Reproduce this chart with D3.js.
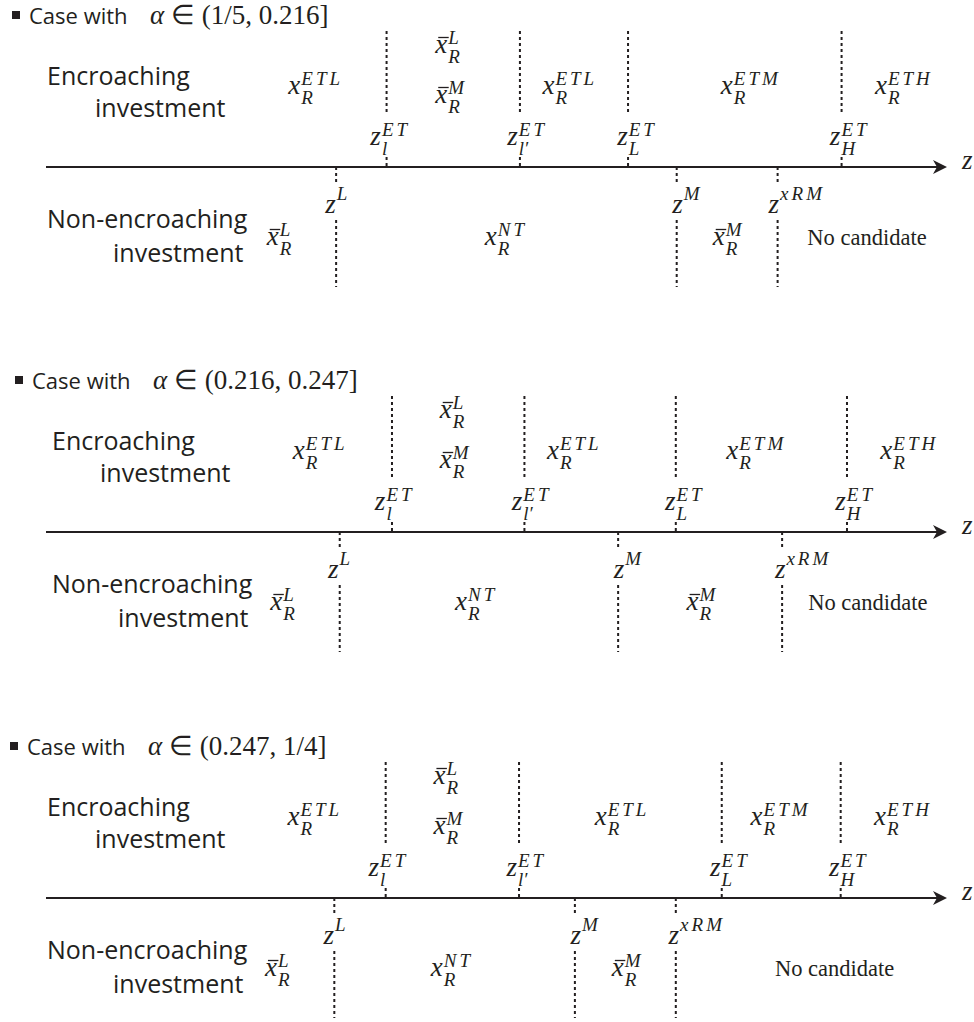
<!DOCTYPE html>
<html><head><meta charset="utf-8">
<script src="https://cdn.jsdelivr.net/npm/d3@7"></script>
<style>body{margin:0;background:#fff}</style>
</head><body>
<svg id="c" width="974" height="1022"></svg>
<script>
// ---------- DATA ----------
const panelIntervals = ["(1/5, 0.216]", "(0.216, 0.247]", "(0.247, 1/4]"];
const rowLabels = [["Encroaching", "investment"], ["Non-encroaching", "investment"]];
const axisName = "z";

const upperThresholdNames = ["z_l^ET", "z_l\u2032^ET", "z_L^ET", "z_H^ET"];
const upperThresholdZ = [[37.8, 52.6, 64.6, 88.3], [38.4, 53.1, 69.9, 88.9], [37.7, 52.5, 75.0, 88.2]];
const upperThresholdLabelZ = [[36.0, 51.2, 63.4, 87.0], [36.5, 51.7, 68.7, 87.6], [35.8, 51.1, 73.7, 86.9]];

const lowerThresholdNames = ["z^L", "z^M", "z^xRM"];
const lowerThresholdZ = [[32.2, 70.0, 81.2], [32.6, 63.5, 81.7], [32.0, 58.7, 69.9]];
const lowerThresholdLabelZ = [[31.0, 69.5, 80.2], [31.3, 63.0, 80.9], [30.8, 58.2, 69.1]];

const upperRegionNames = ["x_R^ETL", "xbar_R^L", "xbar_R^M", "x_R^ETL", "x_R^ETM", "x_R^ETH"];
const upperRegionZ = [[26.9, 43.2, 43.2, 55.1, 74.9, 92.0], [27.4, 43.7, 43.7, 55.6, 75.5, 92.6], [26.8, 43.0, 43.0, 60.9, 78.2, 91.9]];

const lowerRegionNames = ["xbar_R^L", "x_R^NT", "xbar_R^M", "No candidate"];
const lowerRegionZ = [[24.5, 48.7, 74.0, 84.5], [24.9, 45.4, 71.1, 84.6], [24.3, 42.7, 62.8, 80.9]];

// ---------- LAYOUT ----------
const ink = "#231f20";
const mathFont = "'Liberation Serif','Times New Roman',serif";
const sansFont = "'Open Sans','Noto Sans',sans-serif";
const panelAxisY = [167, 532, 898];
const titleShift = [0, 3, -2];
const labelShift = [0, 5, 0];
const x = d3.scaleLinear().domain([0, 100]).range([46, 947]);

const svg = d3.select("#c");

function parseName(n) {
  const m = n.match(/^([a-z])(bar)?(?:_([^\^]+))?(?:\^(.+))?$/);
  return { b: m[1], bar: !!m[2], sub: m[3] || null, sup: m[4] || null };
}

function mathLabel(g, px, baseline, name) {
  if (!/^[a-z](bar)?[_^]/.test(name)) {
    g.append("text").attr("x", px).attr("y", baseline)
      .attr("font-family", mathFont).attr("font-size", 22.5).attr("fill", ink).text(name);
    return;
  }
  const s = parseName(name);
  const grp = g.append("g");
  const base = grp.append("text").attr("x", px).attr("y", baseline)
    .attr("font-family", mathFont).attr("font-style", "italic").attr("font-size", 27)
    .attr("fill", ink).text(s.b);
  const w = base.node().getComputedTextLength();
  if (s.bar) grp.append("line").attr("x1", px + 3).attr("x2", px + w + 1.5)
    .attr("y1", baseline - 15.5).attr("y2", baseline - 15.5)
    .attr("stroke", ink).attr("stroke-width", 1.3);
  const both = s.sup && s.sub;
  if (s.sup) grp.append("text").attr("x", px + w + 1).attr("y", baseline - (both ? 9.5 : 13))
    .attr("font-family", mathFont).attr("font-style", "italic").attr("font-size", 19)
    .attr("letter-spacing", 3).attr("fill", ink).text(s.sup);
  if (s.sub) grp.append("text").attr("x", px + w + 1).attr("y", baseline + 10)
    .attr("font-family", mathFont).attr("font-style", "italic").attr("font-size", 19)
    .attr("fill", ink).text(s.sub);
}

panelIntervals.forEach((interval, p) => {
  const ay = panelAxisY[p];
  const g = svg.append("g").attr("class", "panel");

  // title
  const tx = 12 + titleShift[p];
  g.append("rect").attr("x", tx).attr("y", ay - 156).attr("width", 8).attr("height", 8).attr("fill", ink);
  g.append("text").attr("x", tx + 17).attr("y", ay - 143)
    .attr("font-family", sansFont).attr("font-size", 22).attr("fill", ink).text("Case with");
  const mt = g.append("text").attr("x", tx + 138).attr("y", ay - 143)
    .attr("font-family", mathFont).attr("font-size", 27).attr("fill", ink);
  mt.append("tspan").attr("font-style", "italic").text("\u03b1");
  mt.append("tspan").text(" \u2208 " + interval);

  // row labels
  const lx = 47 + labelShift[p];
  const fs = 25;
  g.append("text").attr("x", lx).attr("y", ay - 82).attr("font-family", sansFont).attr("font-size", fs).attr("fill", ink).text(rowLabels[0][0]);
  g.append("text").attr("x", lx + 48).attr("y", ay - 50).attr("font-family", sansFont).attr("font-size", fs).attr("fill", ink).text(rowLabels[0][1]);
  g.append("text").attr("x", lx).attr("y", ay + 61).attr("font-family", sansFont).attr("font-size", fs).attr("fill", ink).text(rowLabels[1][0]);
  g.append("text").attr("x", lx + 66).attr("y", ay + 95).attr("font-family", sansFont).attr("font-size", fs).attr("fill", ink).text(rowLabels[1][1]);

  // axis
  const x0 = x(0), x1 = x(100);
  g.append("line").attr("x1", x0).attr("x2", x1 - 8).attr("y1", ay).attr("y2", ay)
    .attr("stroke", ink).attr("stroke-width", 2);
  g.append("path").attr("d", `M${x1},${ay} L${x1 - 14},${ay - 7} L${x1 - 10},${ay} L${x1 - 14},${ay + 7} Z`).attr("fill", ink);
  g.append("text").attr("x", x1 + 15).attr("y", ay + 2).attr("font-family", mathFont)
    .attr("font-style", "italic").attr("font-size", 27).attr("fill", ink).text(axisName);

  // upper thresholds
  upperThresholdZ[p].forEach((z, i) => {
    const px = x(z);
    [[ay - 136, ay - 55], [ay - 10, ay]].forEach(([a, b]) =>
      g.append("line").attr("x1", px).attr("x2", px).attr("y1", a).attr("y2", b)
        .attr("stroke", ink).attr("stroke-width", 2).attr("stroke-dasharray", "3,3"));
    mathLabel(g, x(upperThresholdLabelZ[p][i]), ay - 22, upperThresholdNames[i]);
  });
  // lower thresholds
  lowerThresholdZ[p].forEach((z, i) => {
    const px = x(z);
    [[ay, ay + 17], [ay + 53, ay + 120]].forEach(([a, b]) =>
      g.append("line").attr("x1", px).attr("x2", px).attr("y1", a).attr("y2", b)
        .attr("stroke", ink).attr("stroke-width", 2).attr("stroke-dasharray", "3,3"));
    mathLabel(g, x(lowerThresholdLabelZ[p][i]), ay + 46, lowerThresholdNames[i]);
  });
  // upper regions
  upperRegionZ[p].forEach((z, i) => {
    const n = upperRegionNames[i];
    const dy = n === "xbar_R^L" ? -114 : (n === "xbar_R^M" ? -64 : -73);
    mathLabel(g, x(z), ay + dy, n);
  });
  // lower regions
  lowerRegionZ[p].forEach((z, i) => {
    mathLabel(g, x(z), ay + 78, lowerRegionNames[i]);
  });
});
</script>
</body></html>
